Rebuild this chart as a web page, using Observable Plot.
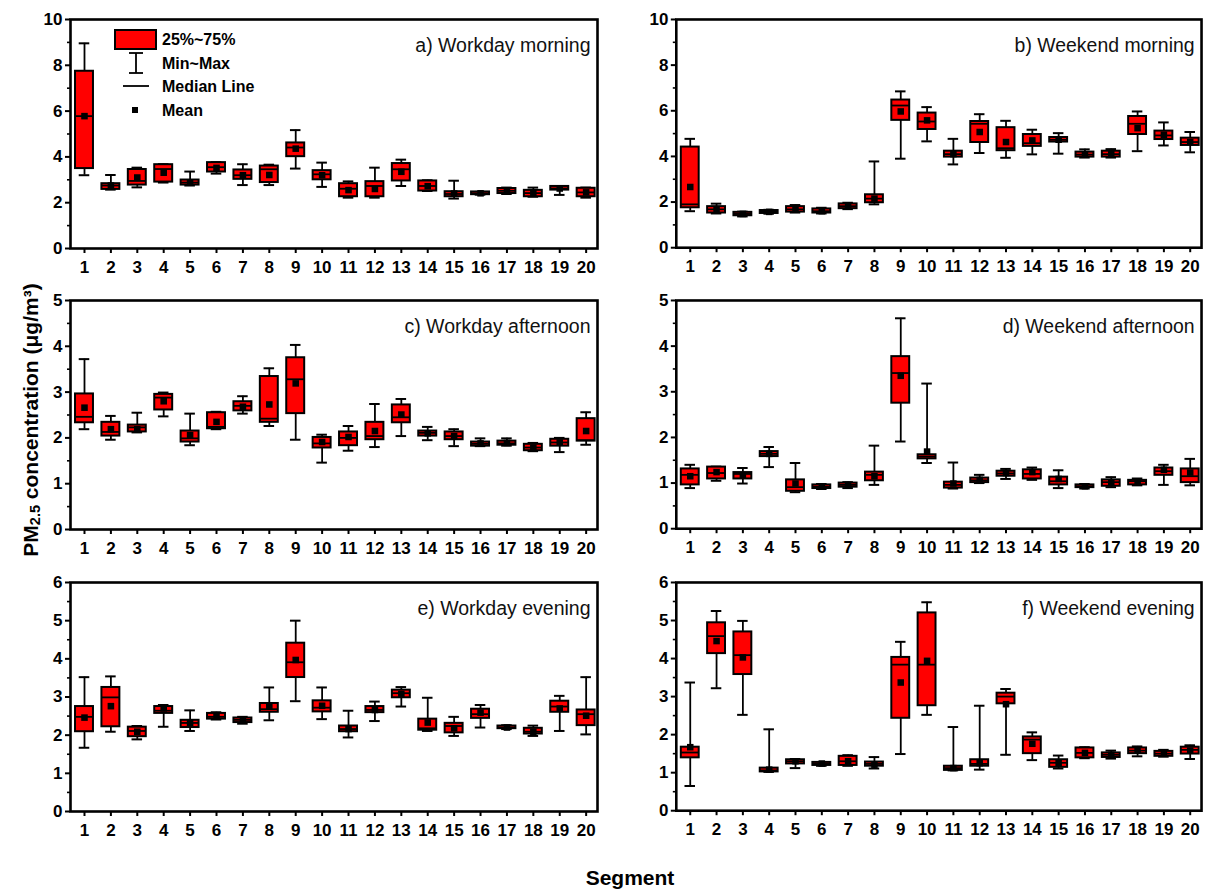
<!DOCTYPE html>
<html>
<head>
<meta charset="utf-8">
<script src="https://cdn.jsdelivr.net/npm/d3@7"></script>
<script src="https://cdn.jsdelivr.net/npm/@observablehq/plot@0.6"></script>
<style>
  html, body { margin: 0; padding: 0; background: #fff; }
  #wrap { position: relative; width: 1211px; height: 890px; background: #fff; font-family: "Liberation Sans", Arial, sans-serif; }
  .panel { position: absolute; }
  #overlay { position: absolute; left: 0; top: 0; pointer-events: none; }
</style>
</head>
<body>
<div id="wrap"></div>
<script>
// ---- data: each row = [min, q1, median, q3, max, mean] for segments 1..20 ----
const segments = [1,2,3,4,5,6,7,8,9,10,11,12,13,14,15,16,17,18,19,20];

const workdayMorning = [
  [3.2,3.49,5.78,7.74,8.96,5.78],[2.57,2.58,2.75,2.83,3.21,2.75],[2.67,2.77,2.95,3.45,3.53,3.1],
  [2.88,2.9,3.47,3.66,3.68,3.31],[2.75,2.77,2.88,2.99,3.36,2.88],[3.27,3.34,3.55,3.75,3.77,3.52],
  [2.77,3.02,3.2,3.43,3.68,3.2],[2.77,2.88,3.46,3.6,3.66,3.21],[3.49,4.01,4.41,4.61,5.17,4.36],
  [2.69,3.0,3.24,3.4,3.75,3.2],[2.22,2.26,2.61,2.83,2.93,2.55],[2.22,2.26,2.73,2.92,3.53,2.6],
  [2.73,2.95,3.46,3.71,3.88,3.35],[2.51,2.51,2.73,2.95,2.98,2.72],[2.18,2.26,2.38,2.48,2.96,2.4],
  [2.35,2.35,2.41,2.47,2.47,2.41],[2.38,2.4,2.52,2.62,2.66,2.52],[2.26,2.26,2.42,2.54,2.66,2.42],
  [2.34,2.55,2.62,2.71,2.73,2.62],[2.22,2.26,2.45,2.63,2.66,2.45]
];
const weekendMorning = [
  [1.6,1.75,1.9,4.41,4.77,2.66],[1.5,1.52,1.68,1.8,1.93,1.65],[1.37,1.4,1.48,1.55,1.58,1.48],
  [1.49,1.5,1.57,1.63,1.66,1.57],[1.54,1.56,1.68,1.8,1.87,1.7],[1.5,1.52,1.6,1.7,1.75,1.6],
  [1.69,1.71,1.82,1.92,1.97,1.82],[1.9,1.97,2.15,2.32,3.78,2.15],[3.9,5.58,6.23,6.47,6.85,5.97],
  [4.66,5.18,5.53,5.9,6.16,5.58],[3.65,3.97,4.1,4.23,4.77,4.1],[4.15,4.61,5.43,5.53,5.85,5.07],
  [3.94,4.25,4.36,5.26,5.56,4.63],[4.09,4.44,4.58,4.96,5.17,4.7],[4.12,4.63,4.73,4.83,5.02,4.73],
  [3.95,3.97,4.08,4.19,4.31,4.08],[3.95,3.97,4.1,4.23,4.32,4.1],[4.23,4.96,5.43,5.75,5.97,5.24],
  [4.48,4.74,4.92,5.11,5.49,4.95],[4.18,4.48,4.63,4.8,5.07,4.63]
];
const workdayAfternoon = [
  [2.19,2.33,2.46,2.96,3.72,2.66],[1.96,2.04,2.13,2.34,2.48,2.19],[2.12,2.13,2.23,2.28,2.55,2.19],
  [2.47,2.61,2.88,2.95,2.99,2.8],[1.84,1.91,1.99,2.15,2.53,2.06],[2.19,2.2,2.24,2.55,2.57,2.35],
  [2.53,2.59,2.7,2.79,2.91,2.68],[2.26,2.34,2.42,3.34,3.52,2.73],[1.96,2.53,3.28,3.75,4.03,3.19],
  [1.46,1.78,1.88,2.01,2.07,1.91],[1.72,1.83,2.0,2.13,2.26,2.02],[1.8,1.96,2.04,2.34,2.74,2.15],
  [2.04,2.33,2.45,2.72,2.85,2.51],[1.95,2.04,2.11,2.15,2.24,2.1],[1.82,1.96,2.04,2.13,2.19,2.04],
  [1.82,1.82,1.87,1.91,1.99,1.88],[1.83,1.84,1.88,1.93,1.99,1.89],[1.71,1.72,1.79,1.86,1.89,1.79],
  [1.69,1.82,1.9,1.97,2.0,1.9],[1.85,1.93,1.95,2.42,2.56,2.15]
];
const weekendAfternoon = [
  [0.89,0.96,1.18,1.31,1.4,1.15],[1.05,1.09,1.22,1.35,1.36,1.24],[0.99,1.09,1.2,1.23,1.33,1.17],
  [1.35,1.58,1.64,1.69,1.79,1.64],[0.8,0.82,0.91,1.07,1.44,0.99],[0.87,0.88,0.92,0.96,0.98,0.92],
  [0.89,0.91,0.96,1.0,1.02,0.96],[0.96,1.05,1.18,1.24,1.82,1.15],[1.91,2.75,3.41,3.77,4.61,3.35],
  [1.44,1.53,1.58,1.62,3.18,1.69],[0.88,0.89,0.96,1.02,1.45,0.99],[1.0,1.01,1.06,1.11,1.18,1.07],
  [1.09,1.15,1.21,1.26,1.31,1.22],[1.07,1.09,1.2,1.29,1.34,1.24],[0.89,0.96,1.04,1.13,1.28,1.09],
  [0.88,0.9,0.93,0.96,0.98,0.93],[0.91,0.93,1.02,1.07,1.13,1.0],[0.95,0.96,1.04,1.06,1.1,1.04],
  [0.96,1.17,1.26,1.33,1.4,1.29],[0.95,1.01,1.15,1.31,1.53,1.23]
];
const workdayEvening = [
  [1.67,2.09,2.48,2.75,3.52,2.46],[2.09,2.22,2.99,3.25,3.54,2.76],[1.89,1.96,2.11,2.21,2.24,2.09],
  [2.22,2.57,2.64,2.75,2.79,2.7],[2.11,2.2,2.32,2.39,2.65,2.32],[2.41,2.42,2.48,2.57,2.6,2.5],
  [2.3,2.33,2.4,2.45,2.48,2.4],[2.39,2.6,2.68,2.83,3.25,2.75],[2.89,3.51,3.91,4.41,5.0,3.97],
  [2.42,2.61,2.72,2.9,3.25,2.77],[1.94,2.09,2.16,2.24,2.64,2.16],[2.37,2.59,2.66,2.75,2.88,2.66],
  [2.75,2.98,3.1,3.18,3.26,3.08],[2.11,2.13,2.18,2.42,2.98,2.33],[1.98,2.06,2.24,2.31,2.48,2.18],
  [2.2,2.44,2.55,2.68,2.79,2.59],[2.16,2.17,2.2,2.24,2.26,2.2],[1.98,2.03,2.09,2.18,2.25,2.09],
  [2.11,2.6,2.75,2.89,3.03,2.7],[2.02,2.25,2.55,2.66,3.52,2.51]
];
const weekendEvening = [
  [0.65,1.39,1.53,1.67,3.37,1.67],[3.22,4.13,4.59,4.94,5.25,4.46],[2.52,3.58,4.09,4.7,4.99,4.03],
  [1.02,1.02,1.06,1.12,2.14,1.08],[1.12,1.23,1.3,1.34,1.36,1.3],[1.18,1.19,1.23,1.27,1.27,1.24],
  [1.18,1.19,1.3,1.43,1.46,1.3],[1.11,1.17,1.23,1.28,1.41,1.21],[1.49,2.43,3.84,4.03,4.44,3.37],
  [2.52,2.76,3.84,5.2,5.48,3.94],[1.06,1.06,1.12,1.17,2.2,1.12],[1.08,1.17,1.23,1.34,2.76,1.25],
  [1.47,2.81,3.0,3.09,3.2,2.8],[1.33,1.5,1.87,1.94,2.06,1.76],[1.11,1.14,1.26,1.34,1.45,1.26],
  [1.38,1.39,1.52,1.65,1.67,1.52],[1.37,1.4,1.47,1.52,1.58,1.47],[1.43,1.5,1.58,1.65,1.69,1.58],
  [1.42,1.43,1.5,1.56,1.6,1.5],[1.36,1.49,1.6,1.67,1.72,1.58]
];

const panelTitles = ["a) Workday morning","b) Weekend morning","c) Workday afternoon","d) Weekend afternoon","e) Workday evening","f) Weekend evening"];
const yMaxes = [10, 10, 5, 5, 6, 6];
const yMajorTicks = [[0,2,4,6,8,10],[0,2,4,6,8,10],[0,1,2,3,4,5],[0,1,2,3,4,5],[0,1,2,3,4,5,6],[0,1,2,3,4,5,6]];
const yMinorTicks = [[1,3,5,7,9],[1,3,5,7,9],[0.5,1.5,2.5,3.5,4.5],[0.5,1.5,2.5,3.5,4.5],[0.5,1.5,2.5,3.5,4.5,5.5],[0.5,1.5,2.5,3.5,4.5,5.5]];
const panelData = [workdayMorning, weekendMorning, workdayAfternoon, weekendAfternoon, workdayEvening, weekendEvening];

// ---- layout ----
const FONT = '"Liberation Sans", Arial, Helvetica, sans-serif';
const frameLefts = [70, 676];
const frameTops = [19, 300, 582];
const frameW = 527, frameH = 229;
const mL = 60, mR = 10, mT = 5, mB = 36;
const halfBox = 0.34, halfCap = 0.2;

const wrap = document.getElementById("wrap");

panelData.forEach((rows, i) => {
  const data = rows.map((r, j) => ({seg: segments[j], min: r[0], q1: r[1], med: r[2], q3: r[3], max: r[4], mean: r[5]}));
  const chart = Plot.plot({
    width: mL + frameW + mR,
    height: mT + frameH + mB,
    marginLeft: mL, marginRight: mR, marginTop: mT, marginBottom: mB,
    x: {type: "linear", domain: [0.47, 20.43]},
    y: {domain: [0, yMaxes[i]]},
    style: {fontFamily: FONT, fontSize: "17px", fontWeight: "bold", color: "black", background: "transparent", overflow: "visible"},
    marks: [
      Plot.ruleX(data, {x: "seg", y1: "min", y2: "max", stroke: "black", strokeWidth: 1.8}),
      Plot.ruleY(data, {y: "max", x1: d => d.seg - halfCap, x2: d => d.seg + halfCap, stroke: "black", strokeWidth: 2}),
      Plot.ruleY(data, {y: "min", x1: d => d.seg - halfCap, x2: d => d.seg + halfCap, stroke: "black", strokeWidth: 2}),
      Plot.rect(data, {x1: d => d.seg - halfBox, x2: d => d.seg + halfBox, y1: "q1", y2: "q3", fill: "#ff0000", stroke: "black", strokeWidth: 2}),
      Plot.ruleY(data, {y: "med", x1: d => d.seg - halfBox, x2: d => d.seg + halfBox, stroke: "black", strokeWidth: 1.8}),
      Plot.dot(data, {x: "seg", y: "mean", symbol: "square", r: 3.7, fill: "black", stroke: "none"}),
      Plot.frame({stroke: "black", strokeWidth: 2.6}),
      Plot.axisX({ticks: segments, tickFormat: d => String(d), tickSize: 5, tickPadding: 7, strokeWidth: 2, fontSize: 17, fontWeight: "bold", label: null}),
      Plot.axisY({ticks: yMajorTicks[i], tickFormat: d => String(d), tickSize: 5, tickPadding: 3, strokeWidth: 2, fontSize: 17, fontWeight: "bold", label: null}),
      Plot.axisY({ticks: yMinorTicks[i], tickFormat: () => "", tickSize: 3, strokeWidth: 1.6, label: null}),
      Plot.text([panelTitles[i]], {frameAnchor: "top-right", dx: -7, dy: 26, lineAnchor: "middle", textAnchor: "end", fontSize: 19.5, fontWeight: "normal", fill: "#111"})
    ]
  });
  const div = document.createElement("div");
  div.className = "panel";
  div.style.left = (frameLefts[i % 2] - mL) + "px";
  div.style.top = (frameTops[Math.floor(i / 2)] - mT) + "px";
  div.appendChild(chart);
  wrap.appendChild(div);
});

// ---- overlay: legend and axis titles ----
const ns = "http://www.w3.org/2000/svg";
const overlay = document.createElementNS(ns, "svg");
overlay.setAttribute("id", "overlay");
overlay.setAttribute("width", 1211);
overlay.setAttribute("height", 890);
overlay.innerHTML = `
  <g font-family='${FONT}' font-weight="bold" font-size="16" fill="black">
    <rect x="115" y="30" width="41" height="19" fill="#ff0000" stroke="black" stroke-width="2"/>
    <text x="162" y="39.5" dominant-baseline="central">25%~75%</text>
    <line x1="136" x2="136" y1="53" y2="73" stroke="black" stroke-width="1.8"/>
    <line x1="129" x2="143" y1="53" y2="53" stroke="black" stroke-width="1.8"/>
    <line x1="129" x2="143" y1="73" y2="73" stroke="black" stroke-width="1.8"/>
    <text x="162" y="63" dominant-baseline="central">Min~Max</text>
    <line x1="123" x2="149" y1="86" y2="86" stroke="black" stroke-width="1.8"/>
    <text x="162" y="86.5" dominant-baseline="central">Median Line</text>
    <rect x="132" y="107" width="6" height="6" fill="black"/>
    <text x="162" y="110" dominant-baseline="central">Mean</text>
  </g>
  <text transform="translate(30,420) rotate(-90)" text-anchor="middle" dominant-baseline="central"
        font-family='${FONT}' font-weight="bold" font-size="21" fill="black">PM<tspan font-size="14.5" dy="5">2.5</tspan><tspan dy="-5"> concentration (μg/m³)</tspan></text>
  <text x="630" y="877" text-anchor="middle" dominant-baseline="central"
        font-family='${FONT}' font-weight="bold" font-size="21" fill="black">Segment</text>
`;
wrap.appendChild(overlay);
</script>
</body>
</html>
